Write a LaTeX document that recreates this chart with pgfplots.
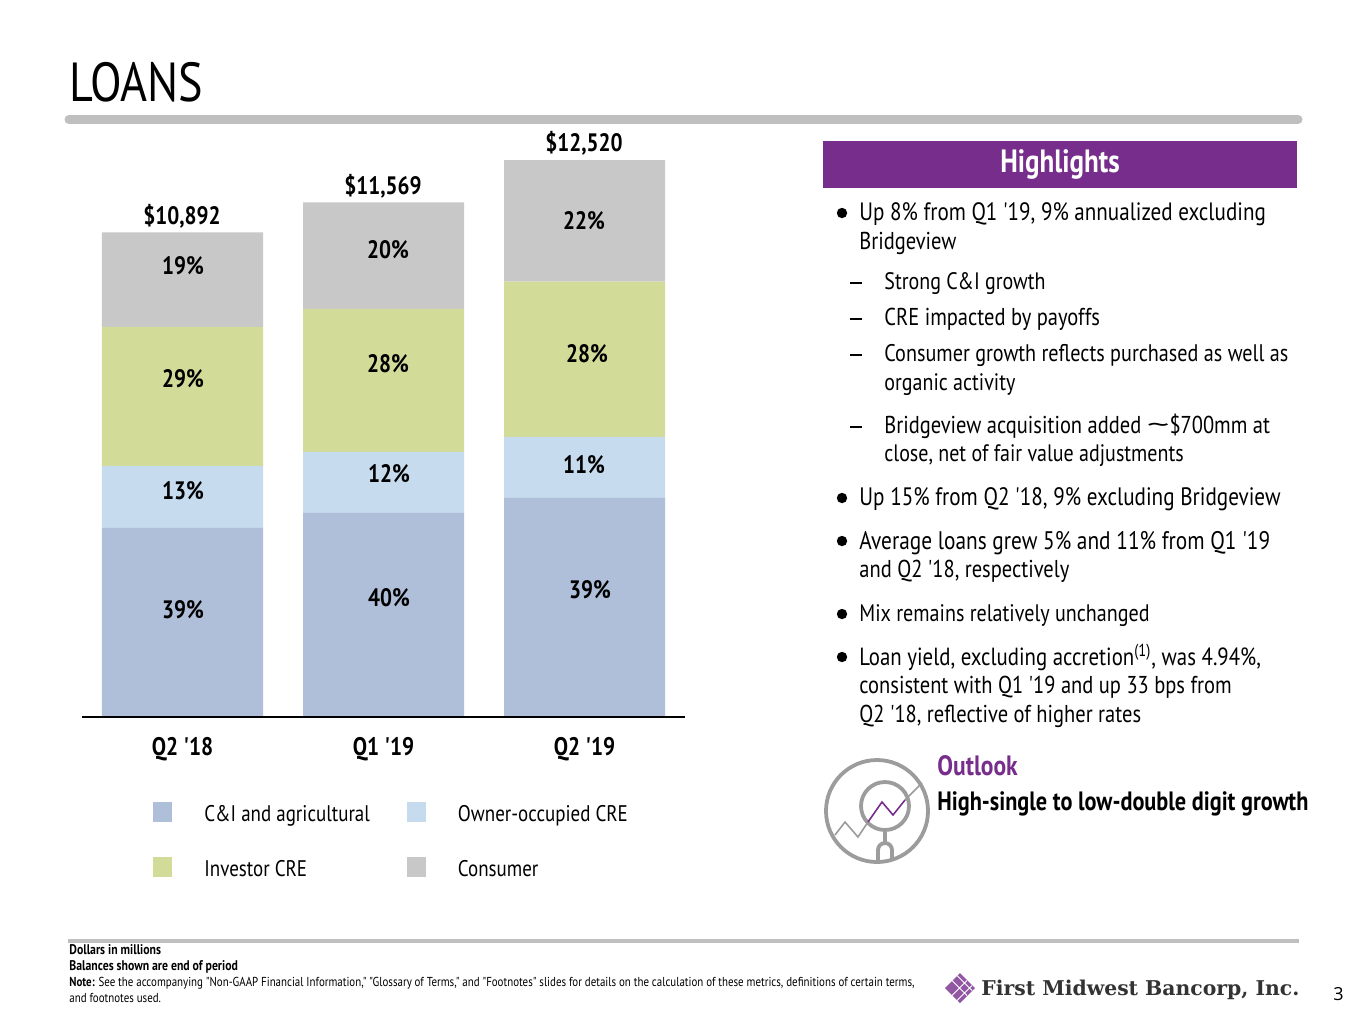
\documentclass[border=0pt]{standalone}
\usepackage{fontspec}
\usepackage{pgfplots}
\usepackage{pgfplotstable}
\pgfplotsset{compat=1.18}
\newfontfamily\slide[FakeStretch=0.84]{PT Sans}
\newfontfamily\logofont{DejaVu Serif}
\newfontfamily\pagefont{Open Sans}

\definecolor{cni}{HTML}{AFBFDA}
\definecolor{ownocc}{HTML}{C7DBEE}
\definecolor{investor}{HTML}{D2DB98}
\definecolor{consumer}{HTML}{C8C8C8}
\definecolor{fmpurple}{HTML}{772D8B}
\definecolor{icongray}{HTML}{9C9C9C}

% balances by loan type
\pgfplotstableread{
x  cni   ownocc investor consumer
0  4251  1395   3126     2120
1  4588  1372   3216     2393
2  4926  1372   3486     2736
}\loans

% one line of slide text, x and baseline in pixels, optional font size
\newcommand{\tl}[4][12.4]{\node[anchor=base west,inner sep=0pt,font=\fontsize{#1}{14}\selectfont] at (#2,#3) {#4};}
\newcommand{\bul}[1]{\fill (842,#1) circle (5.2);}
\newcommand{\dash}[1]{\fill (850,#1-0.8) rectangle (862,#1+0.8);}
\newcommand{\pct}[3]{\node[font=\fontsize{12.6}{14}\selectfont\bfseries,inner sep=0pt] at (#1,#2) {#3};}

\begin{document}
\slide
\begin{tikzpicture}[x=0.5pt,y=-0.5pt]
\useasboundingbox (0,0) rectangle (1365,1024);
\fill[white] (0,0) rectangle (1365,1024);

\node[anchor=base west,inner sep=0pt,font=\fontsize{27.5}{30}\selectfont] at (69,101) {LOANS};
\draw[line width=4.5pt,line cap=round,color=black!25] (69,119.5) -- (1298,119.5);

\begin{axis}[
  at={(41pt,-358.5pt)},
  anchor=south west,
  scale only axis,
  width=301.5pt,
  height=278.5pt,
  clip=false,
  axis on top,
  ybar stacked,
  bar width=80.5pt,
  xmin=-0.5, xmax=2.5,
  ymin=0, ymax=12520,
  axis y line=none,
  axis x line=bottom,
  axis line style={black,line width=1pt,-},
  xtick={0,1,2},
  xticklabels={Q2 '18,Q1 '19,Q2 '19},
  major tick length=0pt,
  xticklabel style={font=\fontsize{12.7}{14}\selectfont\bfseries,yshift=-6.5pt},
  legend columns=2,
  legend cell align=left,
  legend image code/.code={
    \fill[#1] (0pt,-3.4pt) rectangle (9.5pt,6.4pt);
    \path[draw=none,fill=none] (0pt,0pt) -- (23.5pt,0pt);
  },
  legend style={
    draw=none,fill=none,
    at={(32.5pt,-40pt)},anchor=north west,
    font=\fontsize{11.3}{14}\selectfont,
    row sep=14pt,
    /tikz/every odd column/.append style={column sep=0pt},
    /tikz/every even column/.append style={column sep=16.5pt},
  },
]
\addplot[fill=cni,draw=none] table[x=x,y=cni] {\loans};
\addlegendentry{C\&I and agricultural}
\addplot[fill=ownocc,draw=none] table[x=x,y=ownocc] {\loans};
\addlegendentry{Owner-occupied CRE}
\addplot[fill=investor,draw=none] table[x=x,y=investor] {\loans};
\addlegendentry{Investor CRE}
\addplot[fill=consumer,draw=none] table[x=x,y=consumer] {\loans};
\addlegendentry{Consumer}
\end{axis}

% totals
\pct{182}{216}{\$10,892}
\pct{383}{186}{\$11,569}
\pct{584}{143}{\$12,520}
% shares
\pct{183}{266}{19\%}
\pct{183}{379}{29\%}
\pct{183}{491}{13\%}
\pct{183}{610}{39\%}
\pct{388}{250}{20\%}
\pct{388}{364}{28\%}
\pct{389}{474}{12\%}
\pct{389}{598}{40\%}
\pct{584}{221}{22\%}
\pct{587}{354}{28\%}
\pct{584}{465}{11\%}
\pct{590}{590}{39\%}

% highlights panel
\fill[fmpurple] (823,141) rectangle (1297,188);
\node[text=white,font=\fontsize{16.1}{18}\selectfont\bfseries,inner sep=0pt] at (1060,164.5) {Highlights};

\bul{213}
\tl[12.55]{859}{220}{Up 8\% from Q1 '19, 9\% annualized excluding}
\tl[12.2]{859}{249}{Bridgeview}
\dash{283}
\tl[11.9]{884}{289}{Strong C\&I growth}
\dash{319}
\tl[12.2]{884}{325}{CRE impacted by payoffs}
\dash{355}
\tl[12]{884}{361}{Consumer growth reflects purchased as well as}
\tl[11.9]{884}{390}{organic activity}
\dash{427}
\tl[12.2]{884}{433}{Bridgeview acquisition added \scalebox{2.2}[1]{\symbol{126}}\$700mm at}
\tl[11.9]{884}{461}{close, net of fair value adjustments}
\bul{498}
\tl[12.6]{859}{505}{Up 15\% from Q2 '18, 9\% excluding Bridgeview}
\bul{541}
\tl[12.7]{859}{549}{Average loans grew 5\% and 11\% from Q1 '19}
\tl[12.2]{859}{577}{and Q2 '18, respectively}
\bul{614}
\tl[11.95]{859}{621}{Mix remains relatively unchanged}
\bul{657}
\tl[12.4]{859}{665}{Loan yield, excluding accretion\textsuperscript{(1)}, was 4.94\%,}
\tl[12.2]{859}{693}{consistent with Q1 '19 and up 33 bps from}
\tl[12.2]{859}{722}{Q2 '18, reflective of higher rates}

% outlook
\node[anchor=base west,inner sep=0pt,text=fmpurple,font=\fontsize{14}{16}\selectfont\bfseries] at (937,775) {Outlook};
\node[anchor=base west,inner sep=0pt,font=\fontsize{13.25}{15}\selectfont\bfseries] at (937,810) {High-single to low-double digit growth};

% magnifier icon
\begin{scope}[line width=1.9pt,draw=icongray]
\draw (877,811) circle (51);
\draw (885,806) circle (24);
\draw (885,830) -- (885,843);
\draw (878,860) -- (878,850) arc[start angle=180,end angle=360,radius=7] -- (892,860);
\end{scope}
\draw[line width=0.8pt,icongray] (835,835) -- (845,822) -- (858,837) -- (868,822);
\draw[line width=0.8pt,icongray] (905,800) -- (922,783);
\draw[line width=0.8pt,fmpurple] (868,822) -- (882,802) -- (893,815) -- (905,800);

% footnotes
\draw[line width=2pt,color=black!25] (68,940.5) -- (1299,940.5);
\begin{scope}[every node/.style={anchor=base west,inner sep=0pt,font=\fontsize{6.5}{8}\selectfont}]
\node[font=\fontsize{7}{8}\selectfont\bfseries] at (69,954) {Dollars in millions};
\node[font=\fontsize{7}{8}\selectfont\bfseries] at (69,970) {Balances shown are end of period};
\node at (69,986) {\textbf{Note:} See the accompanying "Non-GAAP Financial Information," "Glossary of Terms," and "Footnotes" slides for details on the calculation of these metrics, definitions of certain terms,};
\node at (69,1002) {and footnotes used.};
\end{scope}

% logo
\fill[fmpurple!80] (960,973) -- (975,988) -- (960,1003) -- (945,988) -- cycle;
\draw[white,line width=0.4pt] (952,980.5) -- (967,995.5) (957,975.5) -- (972,990.5) (967,980.5) -- (952,995.5) (972,985.5) -- (957,1000.5);
\node[anchor=base west,inner sep=0pt,text=black!80,font=\logofont\bfseries\fontsize{10.18}{12}\selectfont] at (981,995) {First Midwest Bancorp, Inc.};
\node[anchor=base west,inner sep=0pt,font=\pagefont\fontsize{9}{10}\selectfont] at (1333,1000) {3};
\end{tikzpicture}
\end{document}
